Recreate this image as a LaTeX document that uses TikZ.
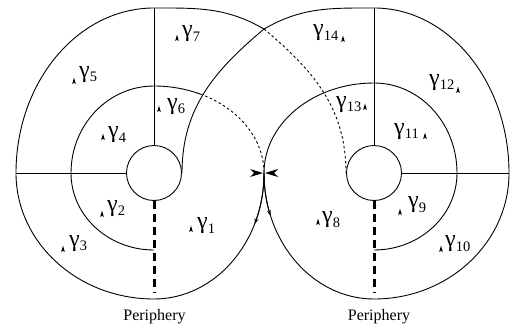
\documentclass[tikz,border=0pt]{standalone}
\usepackage{fontspec}
\setmainfont{Liberation Serif}
\usepackage{graphicx}
\usetikzlibrary{arrows.meta}
\newcommand{\gamlab}[1]{{\fontsize{24}{24}\selectfont γ\raisebox{-4.5pt}{\fontsize{14.5}{14.5}\selectfont #1}}}
\begin{document}
\begin{tikzpicture}[x=1pt,y=1pt,
  ln/.style={line width=0.9pt},
  dsh/.style={line width=0.9pt,dash pattern=on 2.5pt off 2.5pt},
  thickdash/.style={line width=3pt,dash pattern=on 8pt off 5pt},
  lab/.style={anchor=base west,inner sep=0pt},
  per/.style={anchor=base,inner sep=0pt,font=\fontsize{16}{16}\selectfont},
  tipx/.style={-{Stealth[length=6pt,width=4pt]}},
  upmark/.pic={\fill (0,6.5) -- (1.8,0) -- (0,1.2) -- (-1.8,0) -- cycle;}]
\useasboundingbox (0,0) rectangle (510,330);
\coordinate (X) at (264,157);
\coordinate (T) at (264,301);
\coordinate (CL) at (154,157);
\coordinate (CR) at (374,157);
% left system
\draw[ln] (CL) circle[radius=27.5];
\draw[ln] (154,184.5) -- (154,322);
\draw[ln] (126.5,157) -- (16,157);
\draw[thickdash] (154,129.5) -- (154,37);
\draw[ln] (154,80) arc[start angle=270,end angle=180,x radius=83,y radius=77]
  arc[start angle=180,end angle=90,x radius=83,y radius=87]
  arc[start angle=90,end angle=65,x radius=110,y radius=87] coordinate (M1);
\draw[dsh] (M1) arc[start angle=65,end angle=0,x radius=110,y radius=87];
\draw[ln] (X) arc[start angle=0,end angle=-90,x radius=110,y radius=126]
  arc[start angle=270,end angle=180,x radius=138,y radius=126]
  arc[start angle=180,end angle=90,x radius=138,y radius=165]
  to[out=0,in=150] (T);
\draw[dsh] (T) to[out=-40,in=90] (346,157);
% right system
\draw[ln] (CR) circle[radius=27.5];
\draw[ln] (374,184.5) -- (374,322);
\draw[ln] (401.5,157) -- (509,157);
\draw[thickdash] (374,129.5) -- (374,37);
\draw[ln] (374,80) arc[start angle=270,end angle=360,x radius=83,y radius=77]
  arc[start angle=0,end angle=90,x radius=83,y radius=90]
  arc[start angle=90,end angle=180,x radius=110,y radius=90];
\draw[ln] (X) arc[start angle=180,end angle=270,x radius=110,y radius=126]
  arc[start angle=270,end angle=360,x radius=135,y radius=126]
  arc[start angle=0,end angle=90,x radius=135,y radius=165]
  to[out=180,in=30] (T) to[out=220,in=90] (182,157);
% arrows near X
\draw[ln,tipx] (X) arc[start angle=0,end angle=-24,x radius=110,y radius=126];
\draw[ln,tipx] (X) arc[start angle=180,end angle=200,x radius=110,y radius=126];
\fill (263,157) -- (250,161) -- (254,157) -- (250,153) -- cycle;
\fill (265,157) -- (278,161) -- (274,157) -- (278,153) -- cycle;
% markers
\pic at (177,289) {upmark};
\pic at (74,246) {upmark};
\pic at (159,218) {upmark};
\pic at (103,190) {upmark};
\pic at (343,288) {upmark};
\pic at (365,220) {upmark};
\pic at (458,237) {upmark};
\pic at (425,191) {upmark};
\pic at (102,113) {upmark};
\pic at (63,78) {upmark};
\pic at (191,98) {upmark};
\pic at (318,105) {upmark};
\pic at (400,115) {upmark};
\pic at (441,78) {upmark};
% labels
\node[lab] (g7) at (182,293) {\gamlab{7}};
\node[lab] (g5) at (79,253) {\gamlab{5}};
\node[lab] (g6) at (167,221) {\gamlab{6}};
\node[lab] (g4) at (108,192.5) {\gamlab{4}};
\node[lab] (g14) at (313,294) {\gamlab{14}};
\node[lab] (g13) at (336,223) {\gamlab{13}};
\node[lab] (g12) at (429,245) {\gamlab{12}};
\node[lab] (g11) at (394,196) {\gamlab{11}};
\node[lab] (g2) at (107,119) {\gamlab{2}};
\node[lab] (g3) at (69,84) {\gamlab{3}};
\node[lab] (g1) at (197,101.5) {\gamlab{1}};
\node[lab] (g8) at (322,107.5) {\gamlab{8}};
\node[lab] (g9) at (408,122.5) {\gamlab{9}};
\node[lab] (g10) at (445,83.5) {\gamlab{10}};
\node[per] (p1) at (154.5,10) {Periphery};
\node[per] (p2) at (379,10) {Periphery};
\end{tikzpicture}
\end{document}
